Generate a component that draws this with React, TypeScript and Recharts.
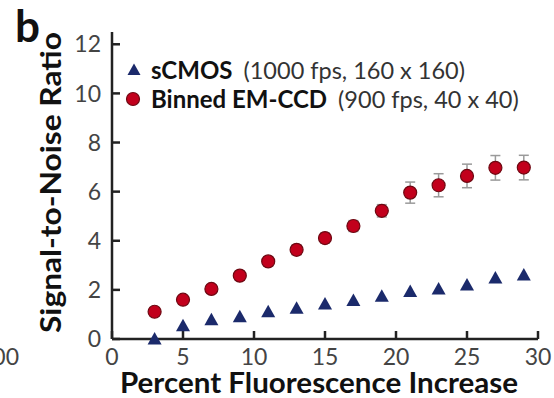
import React from 'react';
import { ErrorBar, Legend, Scatter, ScatterChart, XAxis, YAxis } from 'recharts';

// percent fluorescence increase (x)
const percentIncrease = [3, 5, 7, 9, 11, 13, 15, 17, 19, 21, 23, 25, 27, 29];
// sCMOS (1000 fps, 160 x 160)
const scmosSnr = [0.0, 0.54, 0.78, 0.91, 1.11, 1.25, 1.43, 1.57, 1.74, 1.93, 2.04, 2.2, 2.48, 2.61];
// binned EM-CCD (900 fps, 40 x 40)
const emccdSnr = [1.11, 1.6, 2.04, 2.58, 3.16, 3.63, 4.11, 4.6, 5.22, 5.96, 6.26, 6.64, 6.97, 6.98];
const emccdErr = [0.15, 0.15, 0.15, 0.18, 0.18, 0.2, 0.2, 0.22, 0.25, 0.43, 0.47, 0.48, 0.5, 0.5];

const xTicks = [0, 5, 10, 15, 20, 25, 30];
const yTicks = [0, 2, 4, 6, 8, 10, 12];

const seriesNames = ['sCMOS', 'Binned EM-CCD'];
const seriesDetails = ['(1000 fps, 160 x 160)', '(900 fps, 40 x 40)'];

const xTitle = 'Percent Fluorescence Increase';
const yTitle = 'Signal-to-Noise Ratio';

const scmosData = percentIncrease.map((x, i) => ({ x, y: scmosSnr[i] }));
const emccdData = percentIncrease.map((x, i) => ({ x, y: emccdSnr[i], err: emccdErr[i] }));

const NAVY = '#1b2a6b';
const RED = '#c2001c';
const AXIS = '#222';
const FONT = 'Lato, "Open Sans", sans-serif';

const axisLine = { stroke: AXIS, strokeWidth: 2.5 };
const tickStyle = { fontSize: 23, fill: '#444', fontFamily: FONT };

function Triangle(props: any) {
  const { cx, cy } = props;
  if (cx == null || cy == null) return null;
  return <path d={`M${cx},${cy - 7} L${cx + 7},${cy + 5.5} L${cx - 7},${cy + 5.5} Z`} fill={NAVY} />;
}

function Dot(props: any) {
  const { cx, cy } = props;
  if (cx == null || cy == null) return null;
  return <circle cx={cx} cy={cy} r={6.5} fill={RED} stroke="#6e0812" strokeWidth={1.2} />;
}

function XTitle(props: any) {
  const vb = props.viewBox;
  return (
    <text
      x={vb.x + vb.width / 2 - 6}
      y={vb.y + 54}
      textAnchor="middle"
      fontFamily={FONT}
      fontWeight={700}
      fontSize={29}
      fill="#111"
      textLength={398}
      lengthAdjust="spacingAndGlyphs"
    >
      {xTitle}
    </text>
  );
}

function YTitle(props: any) {
  const vb = props.viewBox;
  const x = vb.x + 9;
  const y = vb.y + vb.height / 2 - 3;
  return (
    <text
      x={x}
      y={y}
      transform={`rotate(-90, ${x}, ${y})`}
      textAnchor="middle"
      fontFamily={FONT}
      fontWeight={700}
      fontSize={29}
      fill="#111"
      textLength={301}
      lengthAdjust="spacingAndGlyphs"
    >
      {yTitle}
    </text>
  );
}

function LegendBox() {
  const icons = [
    <svg width={20} height={20}><path d="M10,3.5 L16.5,15 L3.5,15 Z" fill={NAVY} /></svg>,
    <svg width={20} height={20}><circle cx={9} cy={10} r={6.5} fill={RED} stroke="#6e0812" strokeWidth={1.2} /></svg>,
  ];
  return (
    <div style={{ fontFamily: FONT }}>
      {seriesNames.map((name, i) => (
        <div key={name} style={{ display: 'flex', alignItems: 'center', height: 29, whiteSpace: 'nowrap' }}>
          <span style={{ width: 27, display: 'inline-flex' }}>{icons[i]}</span>
          <span style={{ fontWeight: 700, color: '#111', fontSize: 24 }}>{name}</span>
          <span style={{ color: '#333', marginLeft: 11, fontSize: 23.5 }}>{seriesDetails[i]}</span>
        </div>
      ))}
    </div>
  );
}

export default function App() {
  return (
    <div style={{ position: 'absolute', left: 0, top: 0, width: 554, height: 398, background: '#fff' }}>
      <ScatterChart width={554} height={398} margin={{ top: 32, right: 16, bottom: 0, left: 52 }}>
        <XAxis
          type="number"
          dataKey="x"
          domain={[0, 30]}
          ticks={xTicks}
          height={59}
          axisLine={axisLine}
          tickLine={axisLine}
          tickSize={-8}
          tickMargin={18}
          tick={tickStyle}
          interval={0}
          label={(p: any) => <XTitle {...p} />}
        />
        <XAxis
          xAxisId="top"
          orientation="top"
          type="number"
          domain={[0, 30]}
          ticks={xTicks}
          height={0}
          axisLine={axisLine}
          tickLine={axisLine}
          tickSize={-8}
          tick={false}
          interval={0}
        />
        <YAxis
          type="number"
          dataKey="y"
          domain={[0, 12.5]}
          ticks={yTicks}
          width={60}
          axisLine={axisLine}
          tickLine={axisLine}
          tickSize={-8}
          tickMargin={19}
          tick={tickStyle}
          interval={0}
          label={(p: any) => <YTitle {...p} />}
        />
        <YAxis
          yAxisId="right"
          orientation="right"
          type="number"
          domain={[0, 12.5]}
          ticks={yTicks}
          width={0}
          axisLine={axisLine}
          tickLine={axisLine}
          tickSize={-8}
          tick={false}
          interval={0}
        />
        <Legend
          layout="vertical"
          align="center"
          verticalAlign="middle"
          content={() => <LegendBox />}
          wrapperStyle={{ top: 55, left: 124, width: 'auto' }}
        />
        <Scatter name={seriesNames[0]} data={scmosData} shape={Triangle} isAnimationActive={false} />
        <Scatter name={seriesNames[1]} data={emccdData} shape={Dot} isAnimationActive={false}>
          <ErrorBar dataKey="err" direction="y" width={5} strokeWidth={1.5} stroke="#9a9a9a" />
        </Scatter>
      </ScatterChart>
      <svg width={554} height={398} style={{ position: 'absolute', left: 0, top: 0, pointerEvents: 'none' }}>
        <text x={15} y={42} fontFamily={FONT} fontWeight={700} fontSize={44} fill="#111">b</text>
        <text x={19} y={365} textAnchor="end" fontFamily={FONT} fontSize={23} fill="#444">00</text>
      </svg>
    </div>
  );
}
